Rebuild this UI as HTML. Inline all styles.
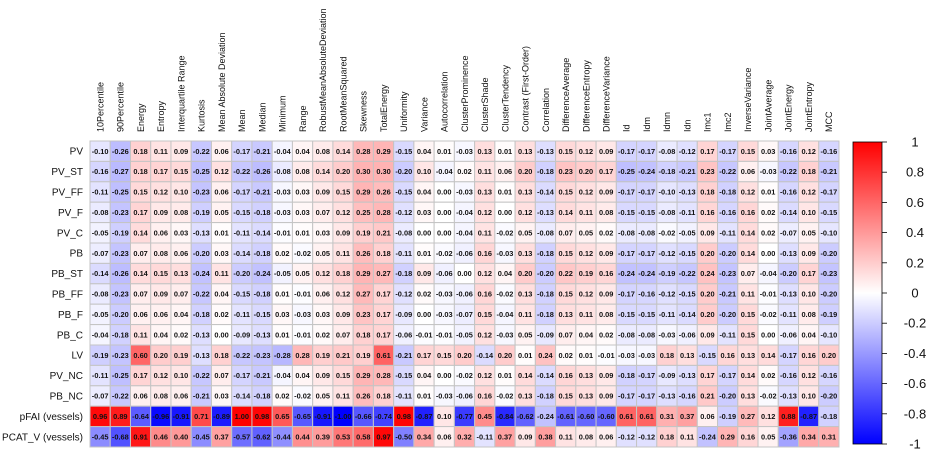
<!DOCTYPE html>
<html><head><meta charset="utf-8"><style>
html,body{margin:0;padding:0;background:#fff;}
svg{display:block;font-family:"Liberation Sans",sans-serif;}
</style></head><body>
<svg id="chart" width="934" height="456" viewBox="0 0 934 456"></svg>
<script>
const columns = ["10Percentile","90Percentile","Energy","Entropy","Interquartile Range","Kurtosis","Mean Absolute Deviation","Mean","Median","Minimum","Range","RobustMeanAbsoluteDeviation","RootMeanSquared","Skewness","TotalEnergy","Uniformity","Variance","Autocorrelation","ClusterProminence","ClusterShade","ClusterTendency","Contrast (First-Order)","Correlation","DifferenceAverage","DifferenceEntropy","DifferenceVariance","Id","Idm","Idmn","Idn","Imc1","Imc2","InverseVariance","JointAverage","JointEnergy","JointEntropy","MCC"];
const rows = ["PV","PV_ST","PV_FF","PV_F","PV_C","PB","PB_ST","PB_FF","PB_F","PB_C","LV","PV_NC","PB_NC","pFAI (vessels)","PCAT_V (vessels)"];
const vPV   = [-0.10,-0.26,0.18,0.11,0.09,-0.22,0.06,-0.17,-0.21,-0.04,0.04,0.08,0.14,0.28,0.29,-0.15,0.04,0.01,-0.03,0.13,0.01,0.13,-0.13,0.15,0.12,0.09,-0.17,-0.17,-0.08,-0.12,0.17,-0.17,0.15,0.03,-0.16,0.12,-0.16];
const vPVST = [-0.16,-0.27,0.18,0.17,0.15,-0.25,0.12,-0.22,-0.26,-0.08,0.08,0.14,0.20,0.30,0.30,-0.20,0.10,-0.04,0.02,0.11,0.06,0.20,-0.18,0.23,0.20,0.17,-0.25,-0.24,-0.18,-0.21,0.23,-0.22,0.06,-0.03,-0.22,0.18,-0.21];
const vPVFF = [-0.11,-0.25,0.15,0.12,0.10,-0.23,0.06,-0.17,-0.21,-0.03,0.03,0.09,0.15,0.29,0.26,-0.15,0.04,0.00,-0.03,0.13,0.01,0.13,-0.14,0.15,0.12,0.09,-0.17,-0.17,-0.10,-0.13,0.18,-0.18,0.12,0.01,-0.16,0.12,-0.17];
const vPVF  = [-0.08,-0.23,0.17,0.09,0.08,-0.19,0.05,-0.15,-0.18,-0.03,0.03,0.07,0.12,0.25,0.28,-0.12,0.03,0.00,-0.04,0.12,0.00,0.12,-0.13,0.14,0.11,0.08,-0.15,-0.15,-0.08,-0.11,0.16,-0.16,0.16,0.02,-0.14,0.10,-0.15];
const vPVC  = [-0.05,-0.19,0.14,0.06,0.03,-0.13,0.01,-0.11,-0.14,-0.01,0.01,0.03,0.09,0.19,0.21,-0.08,0.00,0.00,-0.04,0.11,-0.02,0.05,-0.08,0.07,0.05,0.02,-0.08,-0.08,-0.02,-0.05,0.09,-0.11,0.14,0.02,-0.07,0.05,-0.10];
const vPB   = [-0.07,-0.23,0.07,0.08,0.06,-0.20,0.03,-0.14,-0.18,0.02,-0.02,0.05,0.11,0.26,0.18,-0.11,0.01,-0.02,-0.06,0.16,-0.03,0.13,-0.18,0.15,0.12,0.09,-0.17,-0.17,-0.12,-0.15,0.20,-0.20,0.14,0.00,-0.13,0.09,-0.20];
const vPBST = [-0.14,-0.26,0.14,0.15,0.13,-0.24,0.11,-0.20,-0.24,-0.05,0.05,0.12,0.18,0.29,0.27,-0.18,0.09,-0.06,0.00,0.12,0.04,0.20,-0.20,0.22,0.19,0.16,-0.24,-0.24,-0.19,-0.22,0.24,-0.23,0.07,-0.04,-0.20,0.17,-0.23];
const vPBFF = [-0.08,-0.23,0.07,0.09,0.07,-0.22,0.04,-0.15,-0.18,0.01,-0.01,0.06,0.12,0.27,0.17,-0.12,0.02,-0.03,-0.06,0.16,-0.02,0.13,-0.18,0.15,0.12,0.09,-0.17,-0.16,-0.12,-0.15,0.20,-0.21,0.11,-0.01,-0.13,0.10,-0.20];
const vPBF  = [-0.05,-0.20,0.06,0.06,0.04,-0.18,0.02,-0.11,-0.15,0.03,-0.03,0.03,0.09,0.23,0.17,-0.09,0.00,-0.03,-0.07,0.15,-0.04,0.11,-0.18,0.13,0.11,0.08,-0.15,-0.15,-0.11,-0.14,0.20,-0.20,0.15,-0.02,-0.11,0.08,-0.19];
const vPBC  = [-0.04,-0.18,0.11,0.04,0.02,-0.13,0.00,-0.09,-0.13,0.01,-0.01,0.02,0.07,0.18,0.17,-0.06,-0.01,-0.01,-0.05,0.12,-0.03,0.05,-0.09,0.07,0.04,0.02,-0.08,-0.08,-0.03,-0.06,0.09,-0.11,0.15,0.00,-0.06,0.04,-0.10];
const vLV   = [-0.19,-0.23,0.60,0.20,0.19,-0.13,0.18,-0.22,-0.23,-0.28,0.28,0.19,0.21,0.19,0.61,-0.21,0.17,0.15,0.20,-0.14,0.20,0.01,0.24,0.02,0.01,-0.01,-0.03,-0.03,0.18,0.13,-0.15,0.16,0.13,0.14,-0.17,0.16,0.20];
const vPVNC = [-0.11,-0.25,0.17,0.12,0.10,-0.22,0.07,-0.17,-0.21,-0.04,0.04,0.09,0.15,0.29,0.28,-0.15,0.04,0.00,-0.02,0.12,0.01,0.14,-0.14,0.16,0.13,0.09,-0.18,-0.17,-0.09,-0.13,0.17,-0.17,0.14,0.02,-0.16,0.12,-0.16];
const vPBNC = [-0.07,-0.22,0.06,0.08,0.06,-0.21,0.03,-0.14,-0.18,0.02,-0.02,0.05,0.11,0.26,0.18,-0.11,0.01,-0.03,-0.06,0.16,-0.02,0.13,-0.18,0.15,0.13,0.09,-0.17,-0.17,-0.13,-0.16,0.21,-0.20,0.13,-0.02,-0.13,0.10,-0.20];
const vPFAI = [0.96,0.89,-0.64,-0.96,-0.91,0.71,-0.89,1.00,0.98,0.65,-0.65,-0.91,-1.00,-0.66,-0.74,0.98,-0.87,0.10,-0.77,0.45,-0.84,-0.62,-0.24,-0.61,-0.60,-0.60,0.61,0.61,0.31,0.37,0.06,-0.19,0.27,0.12,0.88,-0.87,-0.18];
const vPCAT = [-0.45,-0.68,0.91,0.46,0.40,-0.45,0.37,-0.57,-0.62,-0.44,0.44,0.39,0.53,0.58,0.97,-0.50,0.34,0.06,0.32,-0.11,0.37,0.09,0.38,0.11,0.08,0.06,-0.12,-0.12,0.18,0.11,-0.24,0.29,0.16,0.05,-0.36,0.34,0.31];
const values = [vPV,vPVST,vPVFF,vPVF,vPVC,vPB,vPBST,vPBFF,vPBF,vPBC,vLV,vPVNC,vPBNC,vPFAI,vPCAT];
const legendTicks = [1,0.8,0.6,0.4,0.2,0,-0.2,-0.4,-0.6,-0.8,-1];

const NS = "http://www.w3.org/2000/svg";
const svg = document.getElementById("chart");
const gx0 = 90, gx1 = 839, gy0 = 141, gy1 = 447;
const cw = (gx1 - gx0) / columns.length, ch = (gy1 - gy0) / rows.length;
function xPos(i){ return gx0 + i * cw; }
function yPos(j){ return gy0 + j * ch; }
function color(v){
  v = Math.max(-1, Math.min(1, v));
  let r, g, b;
  if (v >= 0){ r = 255; g = Math.round(255 * (1 - v)); b = g; }
  else { b = 255; r = Math.round(255 * (1 + v)); g = r; }
  return `rgb(${r},${g},${b})`;
}
function mk(tag, attrs, text){
  const e = document.createElementNS(NS, tag);
  for (const k in attrs) e.setAttribute(k, attrs[k]);
  if (text !== undefined) e.textContent = text;
  svg.appendChild(e);
  return e;
}

columns.forEach((c, i) => {
  const cx = xPos(i) + cw / 2 + 3.3;
  const t = mk("text", {x: cx, y: 132, transform: `rotate(-90 ${cx} 132)`, "font-size": "9", fill: "#111"}, c);
  
  
});
rows.forEach((r, j) => {
  const t = mk("text", {x: 83, y: yPos(j) + ch / 2 + 3.5, "text-anchor": "end", "font-size": "10", fill: "#111"}, r);
  
  
});
values.forEach((row, j) => {
  row.forEach((v, i) => {
    const rc = mk("rect", {x: xPos(i), y: yPos(j), width: cw, height: ch, fill: color(v), stroke: "#c4c4c4", "stroke-width": "1"});
    
    
    const t = mk("text", {x: xPos(i) + cw / 2, y: yPos(j) + ch / 2 + 2.6, "text-anchor": "middle", "font-size": "7.4", "font-weight": "bold", fill: "#111"}, v.toFixed(2));
    
    
  });
});

const bx = 853, bw = 29, by0 = 142, by1 = 444;
const defs = document.createElementNS(NS, "defs");
defs.innerHTML = '<linearGradient id="cg" x1="0" y1="0" x2="0" y2="1"><stop offset="0" stop-color="#ff0000"/><stop offset="0.5" stop-color="#ffffff"/><stop offset="1" stop-color="#0000ff"/></linearGradient>';
svg.appendChild(defs);
const bar = mk("rect", {x: bx, y: by0, width: bw, height: by1 - by0, fill: "url(#cg)", stroke: "#000", "stroke-width": "0.8"});


function yLegend(v){ return by0 + (1 - v) / 2 * (by1 - by0); }
legendTicks.forEach(v => {
  const y = yLegend(v);
  const tk = mk("line", {x1: bx + bw, x2: bx + bw + 5, y1: y, y2: y, stroke: "#000", "stroke-width": "0.8"});
  
  
  const t = mk("text", {x: 915, y: y + 4.5, "text-anchor": "middle", "font-size": "13", fill: "#111"}, String(v));
  
  
});
</script>
</body></html>
